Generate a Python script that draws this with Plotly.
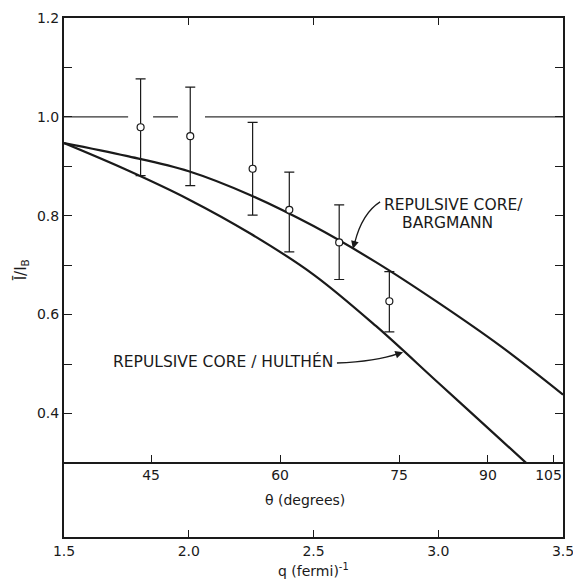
import plotly.graph_objects as go

# ---- data ----
q_barg = [1.5, 1.75, 2.0, 2.25, 2.5, 2.75, 3.0, 3.25, 3.5]
i_barg = [0.947, 0.921, 0.890, 0.841, 0.779, 0.706, 0.624, 0.536, 0.438]

q_hul = [1.5, 1.75, 2.0, 2.25, 2.5, 2.75, 3.0, 3.25, 3.352]
i_hul = [0.947, 0.893, 0.833, 0.763, 0.681, 0.577, 0.462, 0.347, 0.300]

q_pts = [1.807, 2.006, 2.256, 2.403, 2.603, 2.804]
i_pts = [0.979, 0.961, 0.895, 0.812, 0.746, 0.627]
err_up = [0.098, 0.099, 0.094, 0.076, 0.076, 0.060]
err_dn = [0.098, 0.100, 0.094, 0.085, 0.075, 0.062]

# unity reference line (broken where the error bars cross it)
ref_q = [1.5, 1.757, None, 1.857, 1.957, None, 2.065, 3.5]
ref_i = [1.0, 1.0, None, 1.0, 1.0, None, 1.0, 1.0]

q_ticks = [1.5, 2.0, 2.5, 3.0, 3.5]
q_ticklabels = ["1.5", "2.0", "2.5", "3.0", "3.5"]
y_ticks = [0.4, 0.5, 0.6, 0.7, 0.8, 0.9, 1.0, 1.1, 1.2]
y_ticklabels = ["0.4", " ", "0.6", " ", "0.8", " ", "1.0", " ", "1.2"]
theta_q = [1.849, 2.366, 2.843, 3.199, 3.460]
theta_labels = ["45", "60", "75", "90", "105&nbsp;&nbsp;"]

FONT = "DejaVu Sans"
INK = "#1a1a1a"

fig = go.Figure()

fig.add_trace(go.Scatter(x=ref_q, y=ref_i, mode="lines",
                         line=dict(color="#333", width=1.3),
                         hoverinfo="skip", showlegend=False))
fig.add_trace(go.Scatter(x=q_barg, y=i_barg, mode="lines",
                         line=dict(color=INK, width=2.2, shape="spline"),
                         showlegend=False))
fig.add_trace(go.Scatter(x=q_hul, y=i_hul, mode="lines",
                         line=dict(color=INK, width=2.2, shape="spline"),
                         showlegend=False))
fig.add_trace(go.Scatter(x=q_pts, y=i_pts, mode="markers",
                         marker=dict(symbol="circle", size=7, color="white",
                                     line=dict(color=INK, width=1.2)),
                         error_y=dict(type="data", symmetric=False,
                                      array=err_up, arrayminus=err_dn,
                                      color=INK, thickness=1.2, width=5),
                         showlegend=False))

# theta axis (dummy trace to activate xaxis2)
fig.add_trace(go.Scatter(x=[None], y=[None], xaxis="x2", yaxis="y",
                         showlegend=False, hoverinfo="skip"))

fig.update_layout(
    width=573, height=579,
    margin=dict(l=64, r=10, t=18, b=42, autoexpand=False),
    paper_bgcolor="white", plot_bgcolor="white",
    font=dict(family=FONT, color=INK, size=14),
    xaxis=dict(range=[1.5, 3.5], tickvals=q_ticks, ticktext=q_ticklabels,
               ticks="inside", ticklen=7, tickwidth=1.3, tickcolor=INK,
               showline=True, linewidth=2, linecolor=INK, mirror="ticks",
               showgrid=False, zeroline=False, automargin=False,
               ticklabeloverflow="allow",
               tickfont=dict(size=14, family=FONT, color=INK)),
    xaxis2=dict(range=[1.5, 3.5], overlaying="x", anchor="free",
                position=(0.3 - 0.15) / (1.2 - 0.15), side="bottom",
                tickvals=theta_q, ticktext=theta_labels,
                ticks="inside", ticklen=7, tickwidth=1.3, tickcolor=INK,
                showline=True, linewidth=1.5, linecolor=INK,
                showgrid=False, zeroline=False, automargin=False,
                ticklabeloverflow="allow",
                tickfont=dict(size=14, family=FONT, color=INK)),
    yaxis=dict(range=[0.15, 1.2], tickvals=y_ticks, ticktext=y_ticklabels,
               ticks="inside", ticklen=8, tickwidth=1.3, tickcolor=INK,
               showline=True, linewidth=2, linecolor=INK, mirror="ticks",
               showgrid=False, zeroline=False, automargin=False,
               ticklabeloverflow="allow",
               tickfont=dict(size=14, family=FONT, color=INK)),
)

# axis titles
fig.add_annotation(text="q (fermi)<sup>-1</sup>", xref="paper", yref="paper",
                   x=0.5, y=-0.064, xanchor="center", yanchor="middle",
                   showarrow=False, font=dict(family=FONT, size=14, color=INK))
fig.add_annotation(text="θ (degrees)", xref="paper", yref="paper",
                   x=(305 - 64) / 499, y=(537 - 500) / 519, xanchor="center",
                   yanchor="middle", showarrow=False,
                   font=dict(family=FONT, size=14, color=INK))
fig.add_annotation(text="Ī/I<sub>B</sub>", xref="paper", yref="paper",
                   x=-0.085, y=0.515, textangle=-90, xanchor="center",
                   yanchor="middle", showarrow=False,
                   font=dict(family=FONT, size=15, color=INK))

# curve labels
fig.add_annotation(text="REPULSIVE CORE/", x=2.773, y=0.822, xanchor="left",
                   yanchor="middle", showarrow=False,
                   font=dict(family=FONT, size=15.5, color=INK))
fig.add_annotation(text="BARGMANN", x=3.037, y=0.786, xanchor="center",
                   yanchor="middle", showarrow=False,
                   font=dict(family=FONT, size=15.5, color=INK))
fig.add_annotation(text="REPULSIVE CORE / HULTHÉN", x=2.586, y=0.505,
                   xanchor="right", yanchor="middle", showarrow=False,
                   font=dict(family=FONT, size=15.5, color=INK))

# arrows
fig.add_shape(type="path", xref="x", yref="y",
              path="M 2.767,0.828 Q 2.695,0.805 2.665,0.745",
              line=dict(color=INK, width=1.3))
fig.add_annotation(x=2.658, y=0.733, ax=2.668, ay=0.752, xref="x", yref="y",
                   axref="x", ayref="y", text="", showarrow=True,
                   arrowhead=2, arrowsize=1.2, arrowwidth=1.3, arrowcolor=INK)
fig.add_shape(type="path", xref="x", yref="y",
              path="M 2.594,0.502 Q 2.75,0.505 2.84,0.521",
              line=dict(color=INK, width=1.3))
fig.add_annotation(x=2.859, y=0.524, ax=2.83, ay=0.519, xref="x", yref="y",
                   axref="x", ayref="y", text="", showarrow=True,
                   arrowhead=2, arrowsize=1.2, arrowwidth=1.3, arrowcolor=INK)

fig.write_html("out.html")
